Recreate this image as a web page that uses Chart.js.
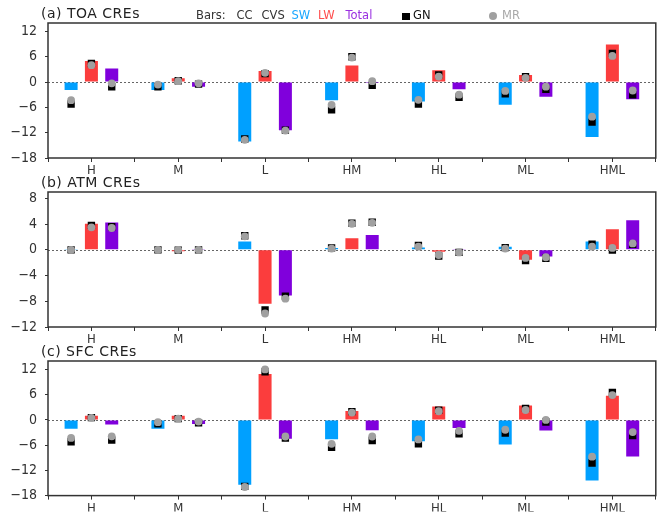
<!DOCTYPE html>
<html>
<head>
<meta charset="utf-8">
<script src="https://cdn.jsdelivr.net/npm/chart.js@4.4.1/dist/chart.umd.min.js"></script>
<style>
  html, body { margin: 0; padding: 0; background: #fff; }
  #wrap { position: relative; width: 661px; height: 512px; overflow: hidden; background: #fff; }
  canvas { position: absolute; left: 0; }
  .txt { position: absolute; white-space: nowrap; font-family: 'DejaVu Sans', sans-serif; line-height: 1; z-index: 5; }
  .title { font-size: 14px; color: #222; letter-spacing: 0.5px; }
  .leg { font-size: 11.5px; color: #333; }
  .sq { position: absolute; width: 8px; height: 7px; background: #000; z-index: 5; }
  .dot { position: absolute; width: 8px; height: 8px; border-radius: 50%; background: #a0a0a0; z-index: 5; }
</style>
</head>
<body>
<div id="wrap">
  <canvas id="cTOA" width="661" height="178" style="top:0px"></canvas>
  <canvas id="cATM" width="661" height="178" style="top:170px"></canvas>
  <canvas id="cSFC" width="661" height="173" style="top:339px"></canvas>

  <div class="txt title" style="left:41px;top:5.5px">(a) TOA CREs</div>
  <div class="txt title" style="left:41px;top:175px">(b) ATM CREs</div>
  <div class="txt title" style="left:41px;top:344px">(c) SFC CREs</div>

  <div class="txt leg" style="left:196px;top:10.3px">Bars:</div>
  <div class="txt leg" style="left:236.5px;top:10.3px">CC</div>
  <div class="txt leg" style="left:261.5px;top:10.3px">CVS</div>
  <div class="txt leg" style="left:291.5px;top:10.3px;color:#1aa7ff">SW</div>
  <div class="txt leg" style="left:318px;top:10.3px;color:#ff4d4d">LW</div>
  <div class="txt leg" style="left:345.5px;top:10.3px;color:#9a30e0">Total</div>
  <div class="sq" style="left:402px;top:12.5px"></div>
  <div class="txt leg" style="left:413px;top:10.3px;color:#111">GN</div>
  <div class="dot" style="left:489px;top:12px"></div>
  <div class="txt leg" style="left:502px;top:10.3px;color:#a8a8a8">MR</div>
</div>

<script>
// Cloud types on the x axis
const categories = ['H', 'M', 'L', 'HM', 'HL', 'ML', 'HML'];

// (a) TOA cloud radiative effects (W m-2): CC+CVS bars
const toaSW    = [-1.9, -1.9, -14.1, -4.3, -4.6, -5.4, -13.0];
const toaLW    = [5.0, 0.9, 2.6, 3.9, 2.8, 1.7, 8.9];
const toaTotal = [3.2, -1.1, -11.4, -0.2, -1.7, -3.5, -4.1];
// GN estimates
const toaGnSW    = [-5.2, -1.1, -13.5, -6.6, -5.2, -2.8, -9.5];
const toaGnLW    = [4.4, 0.3, 2.0, 6.0, 1.7, 1.3, 6.8];
const toaGnTotal = [-1.1, -0.5, -11.4, -0.8, -3.6, -1.7, -3.0];
// MR estimates
const toaMrSW    = [-4.3, -0.6, -13.7, -5.4, -4.2, -2.1, -8.2];
const toaMrLW    = [4.0, 0.2, 2.2, 5.8, 1.3, 1.0, 6.2];
const toaMrTotal = [-0.3, -0.3, -11.5, 0.2, -3.0, -1.1, -2.0];

// (b) atmospheric CREs
const atmSW    = [0.15, 0.1, 1.3, 0.3, 0.36, 0.5, 1.3];
const atmLW    = [4.05, -0.2, -8.4, 1.8, -0.3, -1.55, 3.2];
const atmTotal = [4.25, 0.05, -7.1, 2.3, 0.15, -1.05, 4.6];
const atmGnSW    = [0.0, 0.0, 2.2, 0.3, 0.7, 0.35, 0.9];
const atmGnLW    = [3.8, -0.05, -9.35, 4.15, -0.95, -1.65, -0.05];
const atmGnTotal = [3.6, 0.0, -7.2, 4.3, -0.4, -1.3, 0.85];
const atmMrSW    = [0.0, 0.0, 2.1, 0.2, 0.5, 0.2, 0.5];
const atmMrLW    = [3.5, 0.0, -9.9, 4.05, -0.8, -1.25, 0.3];
const atmMrTotal = [3.4, 0.0, -7.6, 4.2, -0.4, -1.15, 1.0];

// (c) surface CREs
const sfcSW    = [-2.1, -2.1, -15.4, -4.6, -5.1, -5.85, -14.4];
const sfcLW    = [1.0, 1.0, 10.9, 2.1, 3.2, 3.4, 5.75];
const sfcTotal = [-1.1, -1.0, -4.5, -2.45, -1.9, -2.5, -8.7];
const sfcGnSW    = [-5.2, -0.95, -15.8, -6.55, -5.7, -3.15, -10.25];
const sfcGnLW    = [0.55, 0.3, 11.4, 1.95, 2.3, 2.75, 6.5];
const sfcGnTotal = [-4.8, -0.7, -4.35, -4.9, -3.3, -0.5, -3.7];
const sfcMrSW    = [-4.3, -0.55, -15.95, -5.7, -4.65, -2.35, -8.75];
const sfcMrLW    = [0.5, 0.3, 12.0, 1.75, 2.05, 2.35, 5.9];
const sfcMrTotal = [-3.9, -0.4, -3.95, -3.95, -2.6, 0.0, -2.9];

// Axis ranges per panel
const toaTicks = { min: -18, max: 14, step: 6 };
const atmTicks = { min: -12, max: 9, step: 4 };
const sfcTicks = { min: -18, max: 14, step: 6 };

// ---- drawing ----
const SERIES_COLORS = ['#00a0ff', '#fb3d3d', '#8000dc'];
const SLOT = 0.234;               // spacing of SW / LW / Total within a category
const SLOT_SHIFT = [-SLOT, 0, SLOT];

Chart.defaults.font.family = "'Liberation Sans Narrow', 'DejaVu Sans Condensed', 'Liberation Sans', sans-serif";
Chart.defaults.color = '#333';

const frameAndZero = {
  id: 'frameAndZero',
  beforeDatasetsDraw(chart) {
    const { ctx, chartArea: a, scales: { y } } = chart;
    const y0 = y.getPixelForValue(0);
    ctx.save();
    ctx.strokeStyle = '#666';
    ctx.lineWidth = 1;
    ctx.setLineDash([2, 2]);
    ctx.beginPath();
    ctx.moveTo(a.left, Math.round(y0) + 0.5);
    ctx.lineTo(a.right, Math.round(y0) + 0.5);
    ctx.stroke();
    ctx.restore();
  },
  afterDraw(chart) {
    const { ctx, chartArea: a } = chart;
    ctx.save();
    ctx.strokeStyle = '#333';
    ctx.lineWidth = 1.5;
    ctx.strokeRect(a.left, a.top, a.right - a.left, a.bottom - a.top);
    ctx.restore();
  }
};

function placed(seriesList) {
  const pts = [];
  seriesList.forEach((vals, k) => {
    vals.forEach((v, i) => pts.push({ x: i + SLOT_SHIFT[k], y: v }));
  });
  return pts;
}

function drawPanel(id, bars, gn, mr, range, padTop, xHeight) {
  const datasets = bars.map((vals, k) => ({
    type: 'bar',
    data: vals.map((v, i) => ({ x: i + SLOT_SHIFT[k], y: v })),
    backgroundColor: SERIES_COLORS[k],
    borderWidth: 0,
    grouped: false,
    categoryPercentage: 1,
    barPercentage: 0.64,
    maxBarThickness: 13,
    order: 2
  }));
  datasets.push({
    type: 'scatter',
    data: placed(gn),
    pointStyle: 'rect',
    pointRadius: 5.2,
    backgroundColor: '#000',
    borderWidth: 0,
    order: 1
  });
  datasets.push({
    type: 'scatter',
    data: placed(mr),
    pointStyle: 'circle',
    pointRadius: 3.9,
    backgroundColor: '#a0a0a0',
    borderWidth: 0,
    order: 0
  });

  new Chart(document.getElementById(id), {
    type: 'bar',
    data: { datasets },
    options: {
      responsive: false,
      animation: false,
      devicePixelRatio: 1,
      events: [],
      layout: { padding: { left: 0, right: 5, top: padTop, bottom: 0 } },
      plugins: { legend: { display: false }, tooltip: { enabled: false } },
      scales: {
        x: {
          type: 'linear',
          min: -0.5,
          max: categories.length - 0.5,
          offset: false,
          border: { display: false },
          grid: { offset: false, drawOnChartArea: false, drawTicks: true, tickLength: 4, tickColor: '#333', tickWidth: 1 },
          ticks: {
            stepSize: 0.5,
            autoSkip: false,
            maxRotation: 0,
            includeBounds: true,
            padding: 1,
            color: '#333',
            font: { size: 13 },
            callback: (v) => {
              const r = Math.round(v);
              return Math.abs(v - r) < 1e-6 && r >= 0 && r < categories.length ? categories[r] : '';
            }
          },
          afterFit: (s) => { s.height = xHeight; }
        },
        y: {
          type: 'linear',
          min: range.min,
          max: range.max,
          border: { display: false },
          grid: { drawOnChartArea: false, drawTicks: true, tickLength: 3, tickColor: '#333', tickWidth: 1 },
          ticks: {
            stepSize: range.step,
            includeBounds: false,
            padding: 8,
            color: '#333',
            font: { size: 14 },
            callback: (v) => String(v).replace('-', '\u2212')
          },
          afterFit: (s) => { s.width = 48; }
        }
      }
    },
    plugins: [frameAndZero]
  });
}

drawPanel('cTOA', [toaSW, toaLW, toaTotal], [toaGnSW, toaGnLW, toaGnTotal], [toaMrSW, toaMrLW, toaMrTotal], toaTicks, 23, 20);
drawPanel('cATM', [atmSW, atmLW, atmTotal], [atmGnSW, atmGnLW, atmGnTotal], [atmMrSW, atmMrLW, atmMrTotal], atmTicks, 22, 21);
drawPanel('cSFC', [sfcSW, sfcLW, sfcTotal], [sfcGnSW, sfcGnLW, sfcGnTotal], [sfcMrSW, sfcMrLW, sfcMrTotal], sfcTicks, 22, 16);
</script>
</body>
</html>
